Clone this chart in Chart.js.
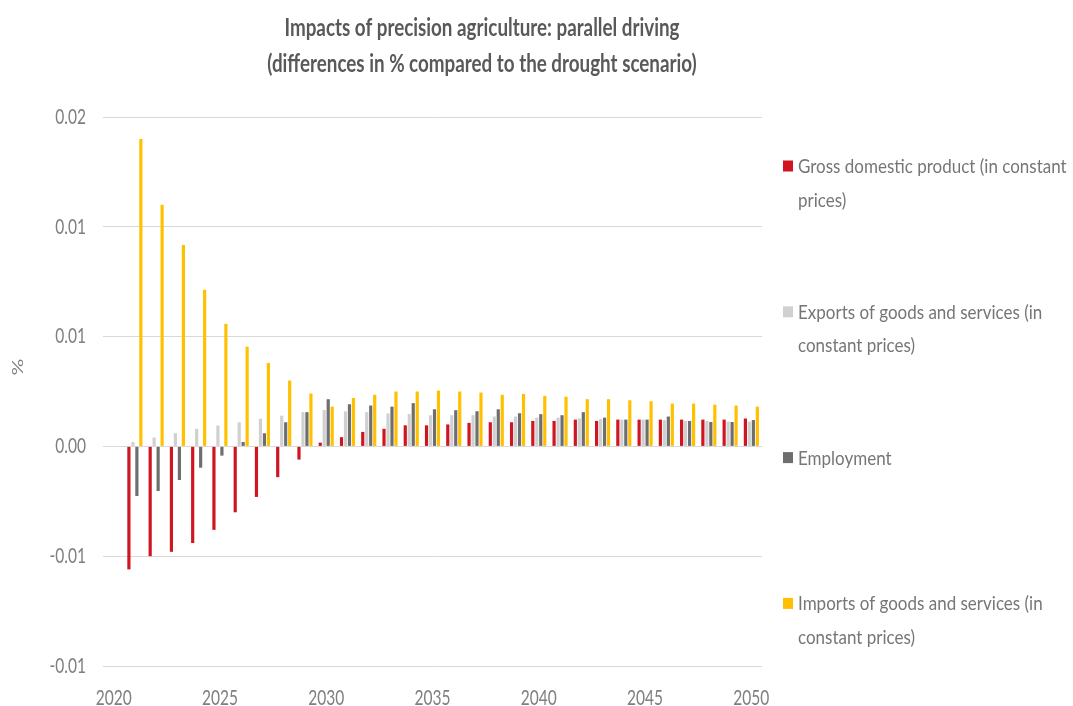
<!DOCTYPE html>
<html>
<head>
<meta charset="utf-8">
<script src="https://cdn.jsdelivr.net/npm/chart.js@4"></script>
<style>
  html, body { margin: 0; padding: 0; background: #ffffff; }
  #wrap { width: 1073px; height: 706px; }
</style>
</head>
<body>
<div id="wrap"><canvas id="impactChart" width="1073" height="706"></canvas></div>
<script>
const FONT = "Lato, 'Open Sans', 'Liberation Sans', sans-serif";

const titleLines = [
    "Impacts of precision agriculture: parallel driving",
    "(differences in % compared to the drought scenario)"
];

const years = [2020, 2021, 2022, 2023, 2024, 2025, 2026, 2027, 2028, 2029, 2030,
    2031, 2032, 2033, 2034, 2035, 2036, 2037, 2038, 2039, 2040,
    2041, 2042, 2043, 2044, 2045, 2046, 2047, 2048, 2049, 2050];

const seriesNames = [
    "Gross domestic product (in constant prices)",
    "Exports of goods and services (in constant prices)",
    "Employment",
    "Imports of goods and services (in constant prices)"
];

const gdp = [null, -0.0056, -0.0050, -0.0048, -0.0044, -0.0038, -0.0030, -0.0023, -0.0014, -0.0006, 0.00017,
    0.00042, 0.00066, 0.0008, 0.00096, 0.00096, 0.0010, 0.00107, 0.0011, 0.0011, 0.00116,
    0.00116, 0.00122, 0.00116, 0.00122, 0.00122, 0.00122, 0.00122, 0.00122, 0.00122, 0.00127];

const exportsGS = [null, 0.0002, 0.0004, 0.0006, 0.0008, 0.00095, 0.0011, 0.00126, 0.0014, 0.00156, 0.00166,
    0.0016, 0.00156, 0.0015, 0.00147, 0.00142, 0.00142, 0.00142, 0.00136, 0.00136, 0.00131,
    0.00131, 0.00127, 0.00125, 0.00122, 0.00122, 0.0012, 0.00116, 0.00116, 0.00113, 0.00113];

const employment = [null, -0.00226, -0.00203, -0.00153, -0.00097, -0.00042, 0.0002, 0.0006, 0.0011, 0.00156, 0.00215,
    0.00192, 0.00186, 0.00181, 0.00197, 0.00169, 0.00165, 0.0016, 0.00169, 0.00151, 0.00147,
    0.00142, 0.00156, 0.00131, 0.00122, 0.00122, 0.00136, 0.00116, 0.00111, 0.00111, 0.0012];

const importsGS = [null, 0.0140, 0.0110, 0.00917, 0.00713, 0.00558, 0.00454, 0.0038, 0.0030, 0.00241, 0.00181,
    0.00221, 0.00235, 0.0025, 0.0025, 0.00254, 0.0025, 0.00245, 0.00235, 0.00239, 0.0023,
    0.00226, 0.00215, 0.00215, 0.0021, 0.00206, 0.00195, 0.00195, 0.0019, 0.00186, 0.00181];

// Excel rounds the axis to 2 decimals, so -0.005 shows as -0.01 etc.
const yTickValues = [-0.01, -0.005, 0, 0.005, 0.01, 0.015];
const yTickLabels = ["-0.01", "-0.01", "0.00", "0.01", "0.01", "0.02"];

const colors = ["#CF1520", "#D0D0D0", "#6E6E6E", "#FFC000"];

// the original picture is squeezed sideways, so text is drawn narrow
function squashText(ctx, text, x, y, sx, align) {
    ctx.save();
    ctx.translate(x, y);
    ctx.scale(sx, 1);
    ctx.textAlign = align;
    ctx.fillText(text, 0, 0);
    ctx.restore();
}

function wrapText(ctx, text, maxWidth) {
    const words = text.split(" ");
    const lines = [];
    let line = "";
    words.forEach(function (w) {
        const test = line ? line + " " + w : w;
        if (ctx.measureText(test).width > maxWidth && line) {
            lines.push(line);
            line = w;
        } else {
            line = test;
        }
    });
    if (line) lines.push(line);
    return lines;
}

const textLayer = {
    id: "textLayer",
    afterDraw(chart) {
        const ctx = chart.ctx;
        const xs = chart.scales.x;
        const ys = chart.scales.y;
        ctx.save();
        ctx.textBaseline = "alphabetic";

        // title
        ctx.font = "bold 24px " + FONT;
        ctx.fillStyle = "#595959";
        const sxTitle = 395 / ctx.measureText(titleLines[0]).width;
        titleLines.forEach(function (t, i) {
            squashText(ctx, t, 482, 36 + i * 36, sxTitle, "center");
        });

        // axis tick labels
        ctx.font = "21px " + FONT;
        ctx.fillStyle = "#7F7F7F";
        const sx = 36 / ctx.measureText("2020").width;
        years.forEach(function (yr, i) {
            if (yr % 5 === 0) {
                squashText(ctx, String(yr), xs.getPixelForTick(i), 705, sx, "center");
            }
        });
        ctx.textBaseline = "middle";
        yTickValues.forEach(function (v, i) {
            squashText(ctx, yTickLabels[i], 86, ys.getPixelForValue(v), sx, "right");
        });

        // y axis title
        ctx.save();
        ctx.translate(18, 367);
        ctx.scale(sx, 1);
        ctx.rotate(-Math.PI / 2);
        ctx.textAlign = "center";
        ctx.fillText("%", 0, 0);
        ctx.restore();

        // legend
        ctx.font = "20px " + FONT;
        ctx.textBaseline = "alphabetic";
        const legSx = sx * 1.15;
        chart.data.datasets.forEach(function (ds, i) {
            const y = 166 + i * 145.8;
            ctx.fillStyle = ds.backgroundColor;
            ctx.fillRect(783, y - 5.5, 10, 11);
            ctx.fillStyle = "#767676";
            wrapText(ctx, ds.label, 274 / legSx).forEach(function (line, j) {
                squashText(ctx, line, 798, y + 7 + j * 33.5, legSx, "left");
            });
        });
        ctx.restore();
    }
};

const ctx = document.getElementById("impactChart").getContext("2d");

new Chart(ctx, {
    type: "bar",
    data: {
        labels: years,
        datasets: [
            { label: seriesNames[0], data: gdp, backgroundColor: colors[0] },
            { label: seriesNames[1], data: exportsGS, backgroundColor: colors[1] },
            { label: seriesNames[2], data: employment, backgroundColor: colors[2] },
            { label: seriesNames[3], data: importsGS, backgroundColor: colors[3] },
        ],
    },
    options: {
        responsive: false,
        animation: false,
        devicePixelRatio: 1,
        categoryPercentage: 0.75,
        barPercentage: 0.8,
        layout: { padding: { top: 117, right: 311, left: 0, bottom: 0 } },
        plugins: {
            legend: { display: false },
            title: { display: false },
            tooltip: { enabled: false },
        },
        scales: {
            x: {
                grid: { display: false, drawTicks: false },
                border: { display: false },
                ticks: { display: false, autoSkip: false },
                afterFit: function (scale) { scale.height = 40; },
            },
            y: {
                min: -0.01,
                max: 0.015,
                grid: { color: "#D9D9D9", lineWidth: 1, drawTicks: false },
                border: { display: false },
                afterBuildTicks: function (scale) {
                    scale.ticks = yTickValues.map(function (v) { return { value: v }; });
                },
                ticks: { display: false },
                afterFit: function (scale) { scale.width = 103; },
            },
        },
    },
    plugins: [textLayer],
});
</script>
</body>
</html>
